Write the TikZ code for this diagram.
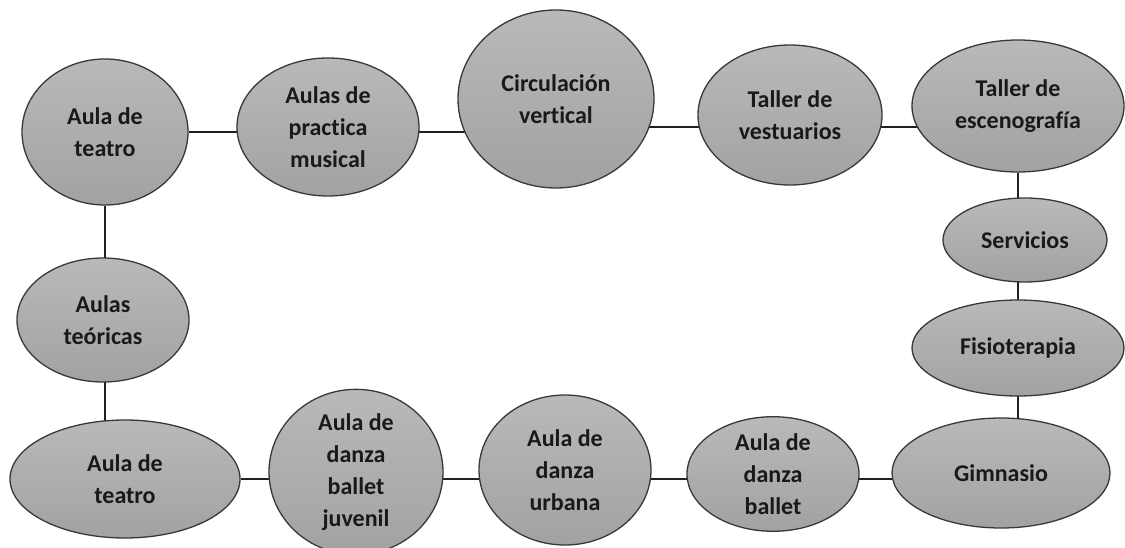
\documentclass[tikz,border=0pt]{standalone}
\usepackage{fontspec}
\setmainfont{Carlito}[Ligatures=NoCommon]
\usepackage{xcolor}
\usepackage{tikz}
\usetikzlibrary{shapes.geometric,backgrounds}
\definecolor{RoomTop}{HTML}{B9B9B9}
\definecolor{RoomBottom}{HTML}{A2A2A2}
\definecolor{RoomEdge}{HTML}{383838}
\definecolor{LinkGray}{HTML}{202020}
\tikzset{
  room/.style={ellipse, draw=RoomEdge, line width=1.3pt, inner sep=0pt,
               top color=RoomTop, bottom color=RoomBottom, align=center,
               text=black!90, font=\fontsize{24}{32}\selectfont\bfseries},
  link/.style={draw=LinkGray, line width=1.2pt}
}

\begin{document}
\begin{tikzpicture}[x=1pt, y=-1pt]
  \useasboundingbox (0,0) rectangle (1125,548);
  % top row
  \node[room, minimum width=166pt, minimum height=146pt] (teatroA) at (105,132) {Aula de\\teatro};
  \node[room, minimum width=182pt, minimum height=138pt] (practica) at (328,127) {Aulas de\\practica\\musical};
  \node[room, minimum width=196pt, minimum height=178pt] (circ) at (556,99) {Circulación\\vertical};
  \node[room, minimum width=184pt, minimum height=140pt] (vest) at (790,115) {Taller de\\vestuarios};
  \node[room, minimum width=212pt, minimum height=132pt] (escen) at (1018,106) {Taller de\\escenografía};
  % right column
  \node[room, minimum width=164pt, minimum height=84pt] (serv) at (1025,240) {Servicios};
  \node[room, minimum width=212pt, minimum height=96pt] (fisio) at (1018,348) {Fisioterapia};
  % bottom row
  \node[room, minimum width=218pt, minimum height=110pt] (gim) at (1001,473) {Gimnasio};
  \node[room, minimum width=172pt, minimum height=112pt] (ballet) at (773,474) {Aula de\\danza\\ballet};
  \node[room, minimum width=172pt, minimum height=150pt] (urbana) at (565,470) {Aula de\\danza\\urbana};
  \node[room, minimum width=174pt, minimum height=148pt] (juvenil) at (356,472) {Aula de\\danza\\ballet\\juvenil};
  \node[room, minimum width=230pt, minimum height=118pt] (teatroB) at (125,479) {Aula de\\teatro};
  % left column
  \node[room, minimum width=172pt, minimum height=124pt] (teoricas) at (103,320) {Aulas\\teóricas};

  \begin{scope}[on background layer]
    \draw[link] (teatroA) -- (teatroA -| practica);
    \draw[link] (teatroA -| practica) -- (teatroA -| circ);
    \draw[link] (practica -| circ) -- (practica -| vest);
    \draw[link] (practica -| vest) -- (practica -| escen);
    \draw[link] (escen) -- (escen |- serv);
    \draw[link] (escen |- serv) -- (escen |- fisio);
    \draw[link] (escen |- fisio) -- (escen |- gim);
    \draw[link] (gim |- teatroB) -- (ballet |- teatroB);
    \draw[link] (ballet |- teatroB) -- (urbana |- teatroB);
    \draw[link] (urbana |- teatroB) -- (juvenil |- teatroB);
    \draw[link] (juvenil |- teatroB) -- (teatroB);
    \draw[link] (teatroA |- teatroB) -- (teatroA |- teoricas);
    \draw[link] (teatroA |- teoricas) -- (teatroA);
  \end{scope}
\end{tikzpicture}
\end{document}
